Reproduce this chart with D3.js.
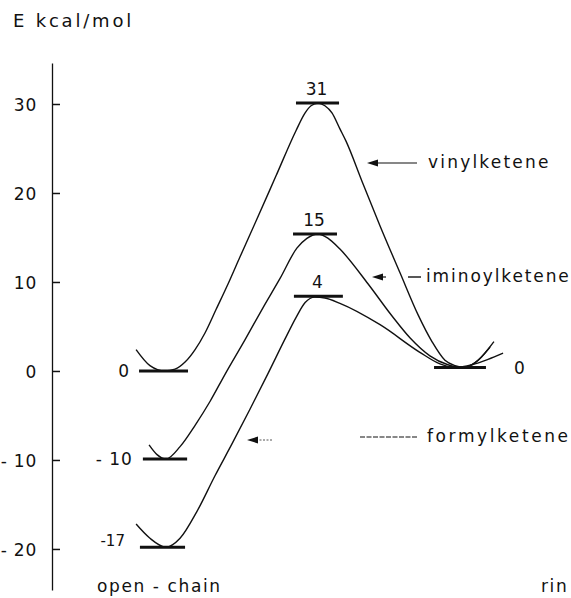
<!DOCTYPE html>
<html><head><meta charset="utf-8">
<script src="https://cdn.jsdelivr.net/npm/d3@7"></script>
<style>
html,body{margin:0;padding:0;background:#fff;}
svg{display:block;}
text{font-family:"DejaVu Sans",sans-serif;fill:#111;}
</style></head>
<body>
<script>
// ---- data (reaction coordinate 0 = open-chain, ~52 = transition state, ~100 = ring) ----
const yTicks = [-20, -10, 0, 10, 20, 30];
const yTickLabels = ["- 20", "- 10", "0", "10", "20", "30"];
const seriesNames = ["vinylketene", "iminoylketene", "formylketene"];

const vinylX = [-9.8, -5.1, 0, 3.4, 6.8, 10.2, 13.6, 17.3, 21.4, 25.4, 31.2, 37.6, 44.4, 47.5, 49.5, 51.9, 54.2, 56.6, 59.3, 61.4, 66.8, 72.9, 79.7, 85.8, 90.5, 94.9, 98.3, 101.7, 106.1, 111.5];
const vinylE = [2.4, 0.6, 0, 0.2, 1.0, 2.4, 4.3, 6.9, 9.8, 12.8, 17.1, 21.9, 27.0, 29.0, 29.8, 30.1, 29.8, 29.0, 27.2, 25.8, 21.3, 16.3, 11.0, 6.3, 3.3, 1.2, 0.6, 0.4, 1.2, 3.3];

const iminoX = [-5.4, -2.7, 0.3, 5.1, 10.2, 15.3, 20.3, 27.1, 33.2, 39.0, 44.7, 48.1, 51.9, 55.3, 59.3, 68.8, 76.9, 83.1, 89.8, 95.9, 100.7, 105.4, 110.2];
const iminoE = [-8.3, -9.4, -9.9, -8.5, -6.1, -3.4, -0.4, 3.5, 7.1, 10.4, 13.8, 14.9, 15.4, 14.9, 13.7, 9.8, 6.2, 3.7, 1.7, 0.7, 0.4, 1.0, 2.7];

const formylX = [-9.8, -5.1, 0.3, 5.1, 10.8, 16.9, 22.7, 28.8, 34.9, 40.7, 44.4, 47.5, 50.8, 54.2, 59.3, 72.9, 86.4, 93.2, 98.3, 104.1, 109.5, 114.6];
const formylE = [-17.2, -18.8, -19.8, -18.8, -15.8, -11.8, -8.2, -4.3, -0.3, 3.6, 6.0, 7.7, 8.3, 8.2, 7.6, 5.2, 2.1, 0.8, 0.4, 0.7, 1.3, 2.0];

// energy level bars
const barStart = [-8.8, -7.5, -8.5, 44.4, 43.4, 43.7, 91.2];
const barEnd   = [7.8, 7.5, 6.8, 59.0, 58.3, 60.3, 108.8];
const barE     = [0, -9.9, -19.8, 30.1, 15.4, 8.4, 0.4];
const barLabels = ["0", "- 10", "-17", "31", "15", "4", "0"];

const xLabels = ["open - chain", "rin"];

// ---- drawing ----
const W = 571, H = 598;
const svg = d3.select("body").append("svg").attr("width", W).attr("height", H);

const x = d3.scaleLinear().domain([0, 100]).range([165, 460]);
const y = d3.scaleLinear().domain([-24.6, 34.6]).range([589.9, 63.06]);

// axis
const axis = d3.axisLeft(y).tickValues(yTicks)
  .tickFormat((d, i) => yTickLabels[i]).tickSize(-8).tickSizeOuter(0).tickPadding(15);
const gA = svg.append("g").attr("transform", "translate(52,0)").call(axis);
gA.select(".domain").attr("stroke", "#111").attr("stroke-width", 1.3);
gA.selectAll(".tick line").attr("stroke", "#111").attr("stroke-width", 1.5);
gA.selectAll(".tick text").attr("font-size", 17).attr("font-family", "DejaVu Sans")
  .attr("fill", "#111").attr("letter-spacing", 0.8).attr("dy", "0.36em");

// title
svg.append("text").attr("x", 13).attr("y", 27).attr("font-size", 18)
  .attr("letter-spacing", 2.8).text("E kcal/mol");

// curves
const line = d3.line().x(d => x(d[0])).y(d => y(d[1])).curve(d3.curveMonotoneX);
const curves = [d3.zip(vinylX, vinylE), d3.zip(iminoX, iminoE), d3.zip(formylX, formylE)];
svg.append("g").selectAll("path").data(curves).join("path")
  .attr("d", line).attr("fill", "none").attr("stroke", "#111").attr("stroke-width", 1.4);

// level bars
const bars = d3.range(barE.length).map(i => ({s: barStart[i], e: barEnd[i], v: barE[i], l: barLabels[i], i}));
svg.append("g").selectAll("line").data(bars).join("line")
  .attr("x1", d => x(d.s)).attr("x2", d => x(d.e))
  .attr("y1", d => y(d.v)).attr("y2", d => y(d.v))
  .attr("stroke", "#111").attr("stroke-width", 3);

// level labels
const lbl = svg.append("g");
bars.forEach(d => {
  let t;
  if (d.i < 3) {
    t = lbl.append("text").attr("x", x(d.s) - (d.i === 2 ? 15 : 10)).attr("y", y(d.v) + (d.i === 2 ? -1 : 6))
      .attr("text-anchor", "end").attr("font-size", d.i === 2 ? 15 : 17)
      .attr("letter-spacing", d.i === 1 ? 1 : 0);
  } else if (d.i < 6) {
    t = lbl.append("text").attr("x", (x(d.s) + x(d.e)) / 2 - 1).attr("y", y(d.v) - 8)
      .attr("text-anchor", "middle").attr("font-size", 17);
  } else {
    t = lbl.append("text").attr("x", x(d.e) + 28).attr("y", y(d.v) + 7)
      .attr("text-anchor", "start").attr("font-size", 17);
  }
  t.text(d.l);
});

// annotations with arrows
function arrowHead(tx, ty) {
  svg.append("path").attr("d", `M${tx},${ty} L${tx + 11},${ty - 3.5} L${tx + 11},${ty + 3.5} Z`).attr("fill", "#111");
}
const ann = svg.append("g");
// vinylketene
arrowHead(367, 163);
ann.append("line").attr("x1", 376).attr("x2", 417).attr("y1", 163).attr("y2", 163).attr("stroke", "#111").attr("stroke-width", 1.2);
ann.append("text").attr("x", 428).attr("y", 168).attr("font-size", 17).attr("letter-spacing", 2.2).text(seriesNames[0]);
// iminoylketene
arrowHead(372, 277);
ann.append("line").attr("x1", 380).attr("x2", 386).attr("y1", 277).attr("y2", 277).attr("stroke", "#111").attr("stroke-width", 1.2);
ann.append("line").attr("x1", 408).attr("x2", 421).attr("y1", 277).attr("y2", 277).attr("stroke", "#111").attr("stroke-width", 1.4);
ann.append("text").attr("x", 426).attr("y", 282).attr("font-size", 17).attr("letter-spacing", 1.9).text(seriesNames[1]);
// formylketene
arrowHead(247, 440);
ann.append("line").attr("x1", 256).attr("x2", 273).attr("y1", 440).attr("y2", 440).attr("stroke", "#555").attr("stroke-width", 1).attr("stroke-dasharray", "2,1.5");
ann.append("line").attr("x1", 360).attr("x2", 417).attr("y1", 437).attr("y2", 437).attr("stroke", "#111").attr("stroke-width", 1.1).attr("stroke-dasharray", "5,1.5");
ann.append("text").attr("x", 427).attr("y", 442).attr("font-size", 17).attr("letter-spacing", 2.6).text(seriesNames[2]);

// bottom labels
svg.append("text").attr("x", 97).attr("y", 592).attr("font-size", 17).attr("letter-spacing", 1.6).text(xLabels[0]);
svg.append("text").attr("x", 541).attr("y", 592).attr("font-size", 17).attr("letter-spacing", 1.6).text(xLabels[1]);
</script>
</body></html>
